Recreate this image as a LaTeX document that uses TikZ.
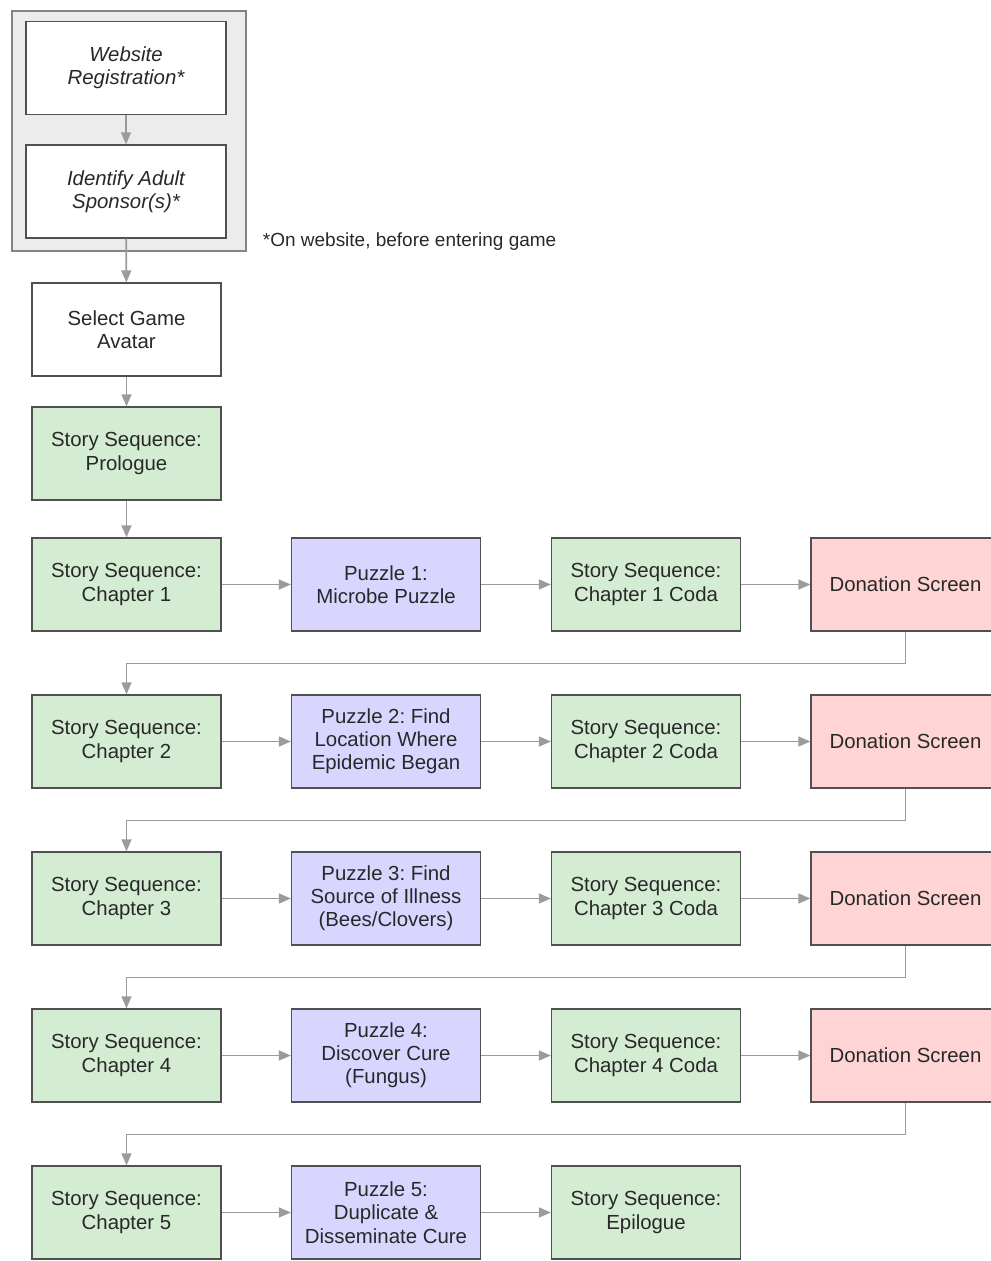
\documentclass[tikz,border=0pt]{standalone}
\usepackage{fontspec}
\setmainfont{Liberation Sans}
\frenchspacing
\usetikzlibrary{arrows.meta}
\definecolor{storyfill}{RGB}{212,236,210}
\definecolor{puzzlefill}{RGB}{216,214,255}
\definecolor{donatefill}{RGB}{255,212,212}
\definecolor{groupfill}{RGB}{236,236,236}
\definecolor{boxline}{RGB}{80,80,80}
\definecolor{linkgray}{RGB}{155,155,155}
\definecolor{textgray}{RGB}{40,40,40}
\begin{document}
\begin{tikzpicture}[x=0.025cm, y=-0.025cm, font=\fontsize{14.5}{16.5}\selectfont,
  box/.style={draw=boxline, line width=0.8pt, minimum width=4.725cm, minimum height=2.325cm,
    align=center, inner sep=0pt, text=textgray},
  story/.style={box, fill=storyfill},
  puzzle/.style={box, fill=puzzlefill},
  donate/.style={box, fill=donatefill},
  plain/.style={box, fill=white},
  link/.style={draw=linkgray, line width=1.2pt, -{Triangle[length=8.5pt, width=7pt]}}]
  \useasboundingbox (0,0) rectangle (991,1261);
  % website part
  \node (grp) [draw=boxline!70, fill=groupfill, line width=1pt, minimum width=5.85cm, minimum height=6cm] at (129,131) {};
  \node (web) [plain, minimum width=5cm, font=\fontsize{14.5}{16.5}\selectfont\itshape] at (126,68) {Website\\Registration*};
  \node (spons) [plain, minimum width=5cm, font=\fontsize{14.5}{16.5}\selectfont\itshape] at (126,191.5) {Identify Adult\\Sponsor(s)*};
  \node (note) [anchor=west, text=textgray, font=\fontsize{13.5}{15}\selectfont] at (258,242) {*On website, before entering game};
  \node (avatar) [plain] at (126.5,329.5) {Select Game\\Avatar};
  \node (prol) [story] at (126.5,453.5) {Story Sequence:\\Prologue};
  % chapters
  \foreach \r/\y in {1/584.5,2/741.5,3/898.5,4/1055.5,5/1212.5}
    \node (ch\r) [story] at (126.5,\y) {Story Sequence:\\Chapter \r};
  \node (pz1) [puzzle] at (386,584.5) {Puzzle 1:\\Microbe Puzzle};
  \node (pz2) [puzzle] at (386,741.5) {Puzzle 2: Find\\Location Where\\Epidemic Began};
  \node (pz3) [puzzle] at (386,898.5) {Puzzle 3: Find\\Source of Illness\\(Bees/Clovers)};
  \node (pz4) [puzzle] at (386,1055.5) {Puzzle 4:\\Discover Cure\\(Fungus)};
  \node (pz5) [puzzle] at (386,1212.5) {Puzzle 5:\\Duplicate \&\\Disseminate Cure};
  \foreach \r/\y in {1/584.5,2/741.5,3/898.5,4/1055.5} {
    \node (co\r) [story] at (646,\y) {Story Sequence:\\Chapter \r{} Coda};
    \node (don\r) [donate] at (905.5,\y) {Donation Screen};
  }
  \node (epi) [story] at (646,1212.5) {Story Sequence:\\Epilogue};
  % links
  \draw[link] (web) -- (spons);
  \draw[link] (spons) -- (avatar);
  \draw[link] (avatar) -- (prol);
  \draw[link] (prol) -- (ch1);
  \foreach \r in {1,...,4} {
    \draw[link] (ch\r) -- (pz\r);
    \draw[link] (pz\r) -- (co\r);
    \draw[link] (co\r) -- (don\r);
  }
  \foreach \r/\n in {1/2,2/3,3/4,4/5}
    \draw[link] (don\r.south) -- ++(0,32) -| (ch\n.north);
  \draw[link] (ch5) -- (pz5);
  \draw[link] (pz5) -- (epi);
\end{tikzpicture}
\end{document}
